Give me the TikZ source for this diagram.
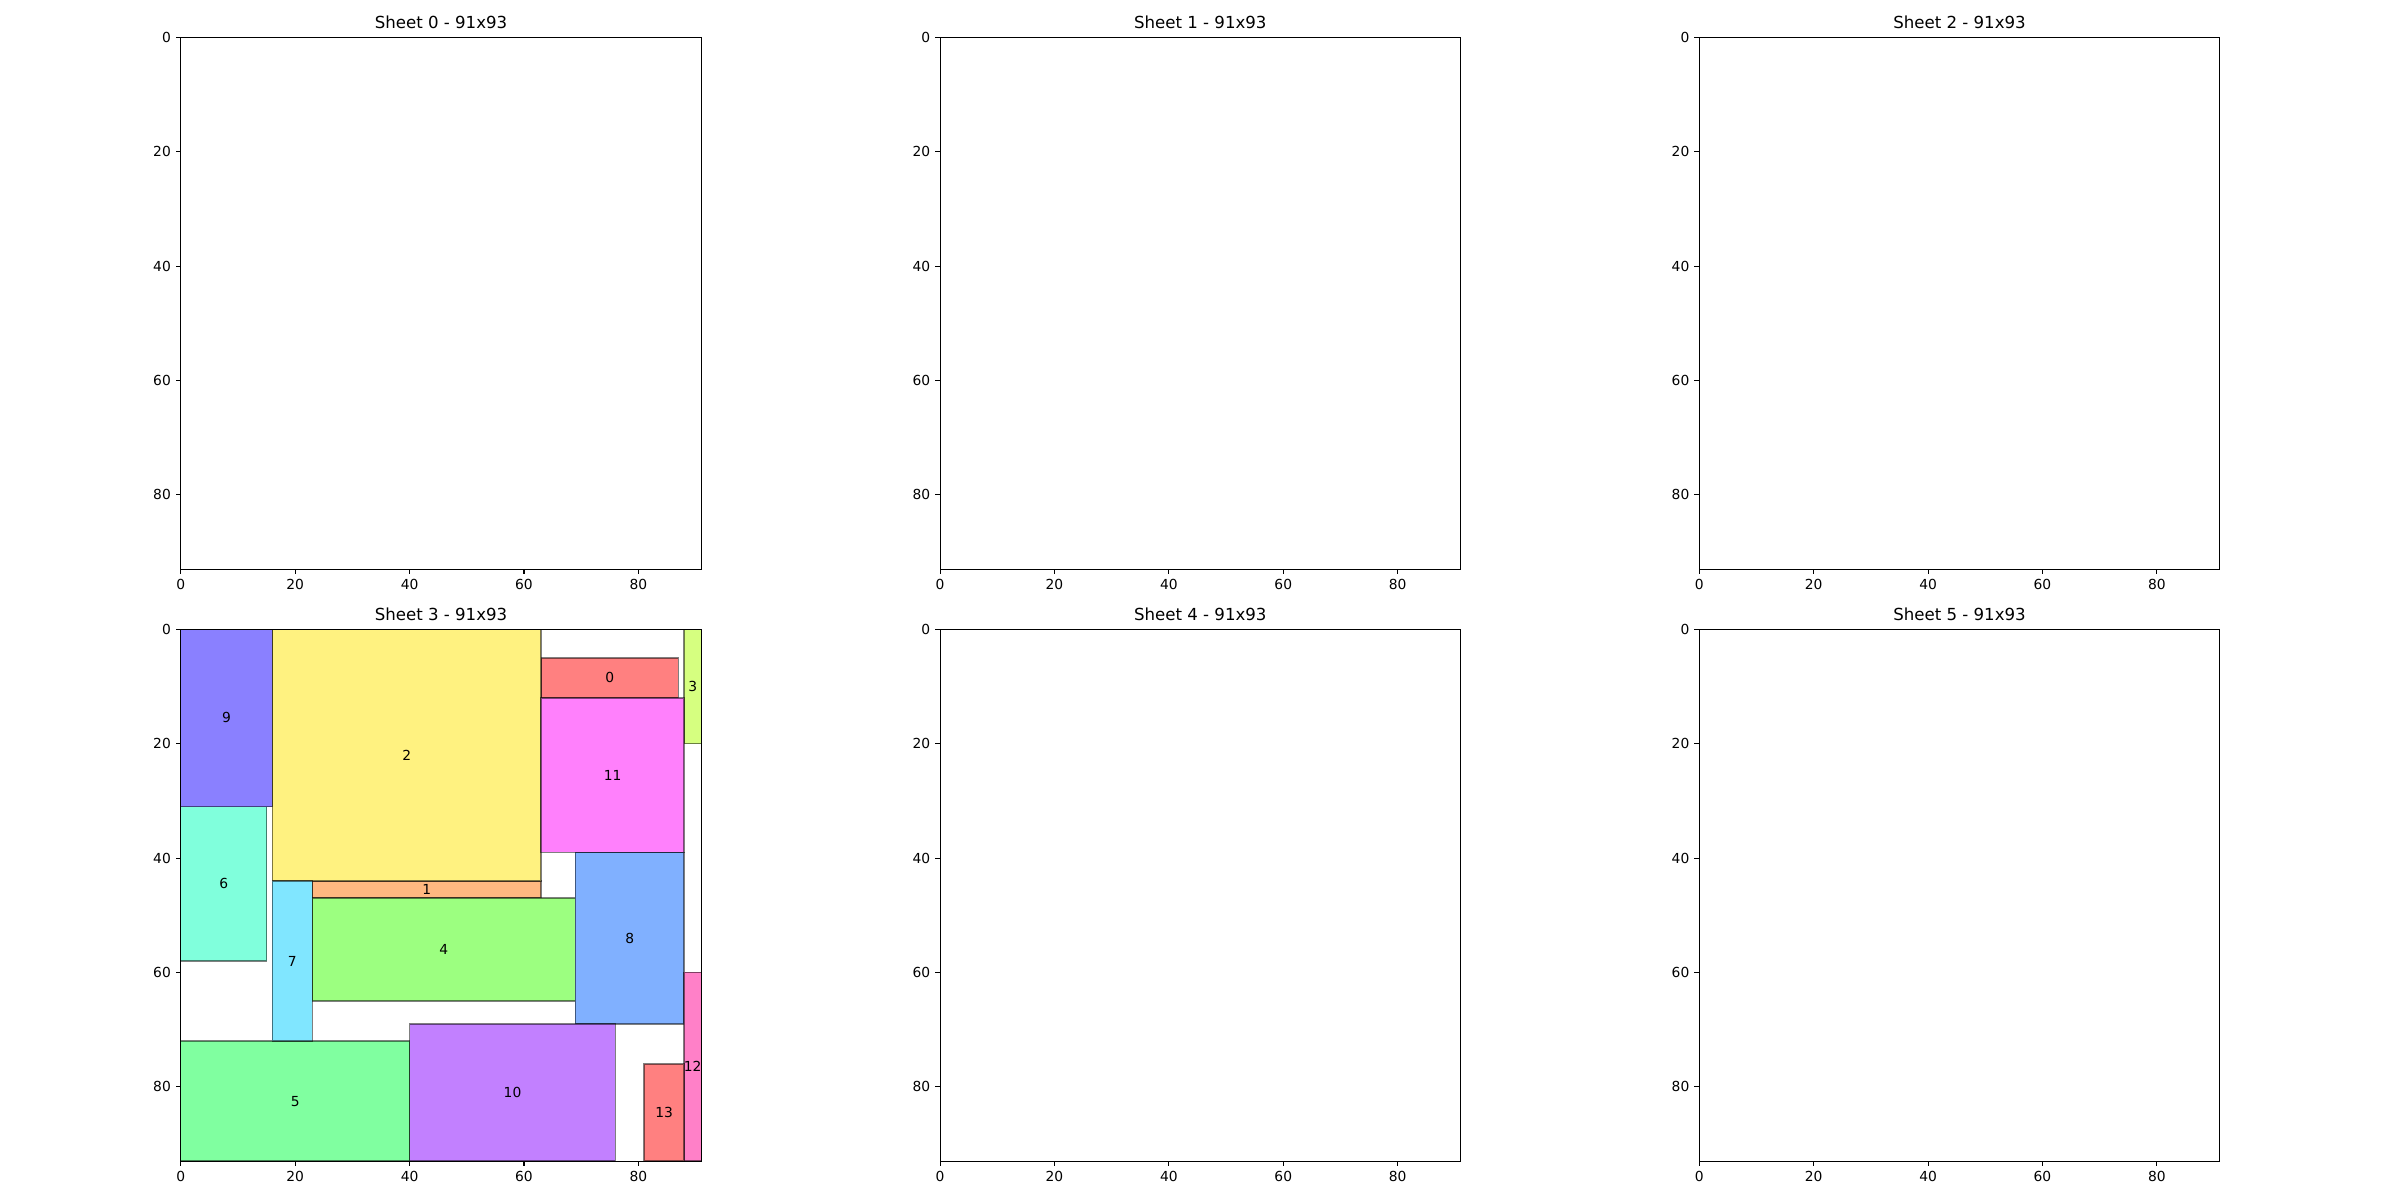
\documentclass[tikz,border=0pt]{standalone}
\usepackage{fontspec}
\setmainfont{DejaVu Sans}
\usetikzlibrary{positioning}
\definecolor{pc0}{HTML}{FF8080}
\definecolor{pc1}{HTML}{FFB880}
\definecolor{pc2}{HTML}{FFF280}
\definecolor{pc3}{HTML}{D6FF80}
\definecolor{pc4}{HTML}{9CFF80}
\definecolor{pc5}{HTML}{80FFA0}
\definecolor{pc6}{HTML}{80FFDC}
\definecolor{pc7}{HTML}{80E6FF}
\definecolor{pc8}{HTML}{80B0FF}
\definecolor{pc9}{HTML}{8A80FF}
\definecolor{pc10}{HTML}{C280FF}
\definecolor{pc11}{HTML}{FF80FC}
\definecolor{pc12}{HTML}{FF80C8}
\definecolor{pc13}{HTML}{FF8080}

\begin{document}
\begin{tikzpicture}[x=0.254mm,y=-0.254mm,
  part/.style={line width=1pt,draw=black,draw opacity=0.5},
  num/.style={font=\fontsize{10}{12}\selectfont,inner sep=0pt},
  ttl/.style={font=\fontsize{12}{14.4}\selectfont,inner sep=0pt,anchor=base},
  spine/.style={line width=0.8pt,line cap=rect},
  tk/.style={line width=0.8pt}]
  \useasboundingbox (0,0) rectangle (2400,1200);
  % parts placed on sheet 3
  \begin{scope}[shift={(180.8,629.3)},x=1.4526mm,y=-1.4526mm]
    \foreach \id/\xa/\ya/\xb/\yb in {0/63/5/87/12,1/23/44/63/47,2/16/0/63/44,3/88/0/91/20,
      4/23/47/69/65,5/0/72/40/93,6/0/31/15/58,7/16/44/23/72,8/69/39/88/69,9/0/0/16/31,
      10/40/69/76/93,11/63/12/88/39,12/88/60/91/93,13/81/76/88/93}{
      \draw[part,fill=pc\id] (\xa,\ya) rectangle (\xb,\yb);
      \node[num] (p\id) at ({(\xa+\xb)/2},{(\ya+\yb)/2}) {\id};
    }
  \end{scope}
  % axes of the six sheets
  \foreach \s/\cx/\cy in {0/180.8/37.3,1/940.1/37.3,2/1699.3/37.3,
    3/180.8/629.3,4/940.1/629.3,5/1699.3/629.3}{
    \begin{scope}[shift={(\cx,\cy)},x=1.4526mm,y=-1.4526mm]
      \draw[spine] (0,0) rectangle (91,93);
      \foreach \t in {0,20,...,80}{
        \draw[tk] (\t,93) -- ++(0,-3.5pt);
        \node[num,anchor=north] (xl\s\t) at ([yshift=-7pt]\t,93) {\t};
        \draw[tk] (0,\t) -- ++(-3.5pt,0);
        \node[num,anchor=east] (yl\s\t) at ([xshift=-7pt]0,\t) {\t};
      }
      \node[ttl] (t\s) at ([yshift=6pt]45.5,0) {Sheet \s\ - 91x93};
    \end{scope}
  }
\end{tikzpicture}
\end{document}
